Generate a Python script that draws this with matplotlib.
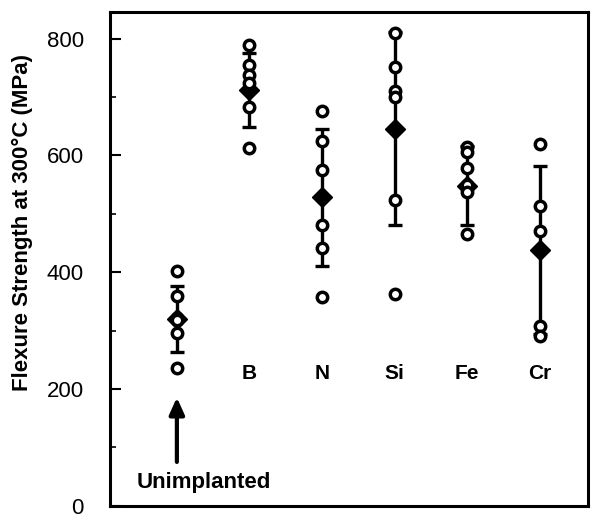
import numpy as np
import matplotlib
matplotlib.use("Agg")
from matplotlib import pyplot as plt

plt.rcParams['font.family'] = ['Liberation Sans', 'DejaVu Sans']

# groups (x position = index + 1)
groups = ['Unimplanted', 'B', 'N', 'Si', 'Fe', 'Cr']

# individual flexure strengths (MPa)
unimplanted = [402, 360, 322, 318, 295, 235]
boron = [790, 755, 738, 725, 683, 612]
nitrogen = [676, 625, 575, 481, 442, 358]
silicon = [810, 751, 710, 700, 524, 363]
iron = [615, 606, 578, 550, 538, 465]
chromium = [620, 514, 471, 307, 290]
points = [unimplanted, boron, nitrogen, silicon, iron, chromium]

# mean and error bar half-width
means = [320, 712, 528, 646, 548, 438]
errors = [57, 64, 118, 165, 68, 144]

fig = plt.figure(figsize=(5.95, 5.18), dpi=100)
ax = fig.add_axes([0.185, 0.024, 0.803, 0.953])

xs = np.arange(1, len(groups) + 1)

ax.errorbar(xs, means, yerr=errors, fmt='D', color='black', ms=10,
            elinewidth=2.4, capsize=5, capthick=2.4, zorder=2)

for x, vals in zip(xs, points):
    ax.plot([x] * len(vals), vals, 'o', ms=7.5, mfc='white', mec='black',
            mew=2.5, zorder=3)

# element labels inside the plot
for x, name in zip(xs[1:], groups[1:]):
    ax.text(x, 226, name, ha='center', va='center', fontsize=15,
            fontweight='bold')

ax.annotate('', xy=(xs[0], 190), xytext=(xs[0], 70),
            arrowprops=dict(arrowstyle='-|>,head_length=1.0,head_width=0.45',
                            color='black', lw=3))
ax.text(0.44, 39, groups[0], ha='left', va='center', fontsize=16,
        fontweight='bold')

ax.set_xlim(0.08, 6.66)
ax.set_ylim(0, 846)
ax.set_xticks([])
ax.set_yticks([0, 200, 400, 600, 800])
ax.set_yticks([100, 300, 500, 700], minor=True)
ax.tick_params(axis='y', which='major', direction='in', length=8, width=1.5,
               labelsize=16, pad=19)
ax.tick_params(axis='y', which='minor', direction='in', length=4, width=1.2)
ax.set_ylabel('Flexure Strength at 300°C (MPa)', fontsize=16,
              fontweight='bold')
ax.yaxis.set_label_coords(-0.161, 0.573)
for s in ax.spines.values():
    s.set_linewidth(2.2)

fig.savefig('out.png', dpi=100)
